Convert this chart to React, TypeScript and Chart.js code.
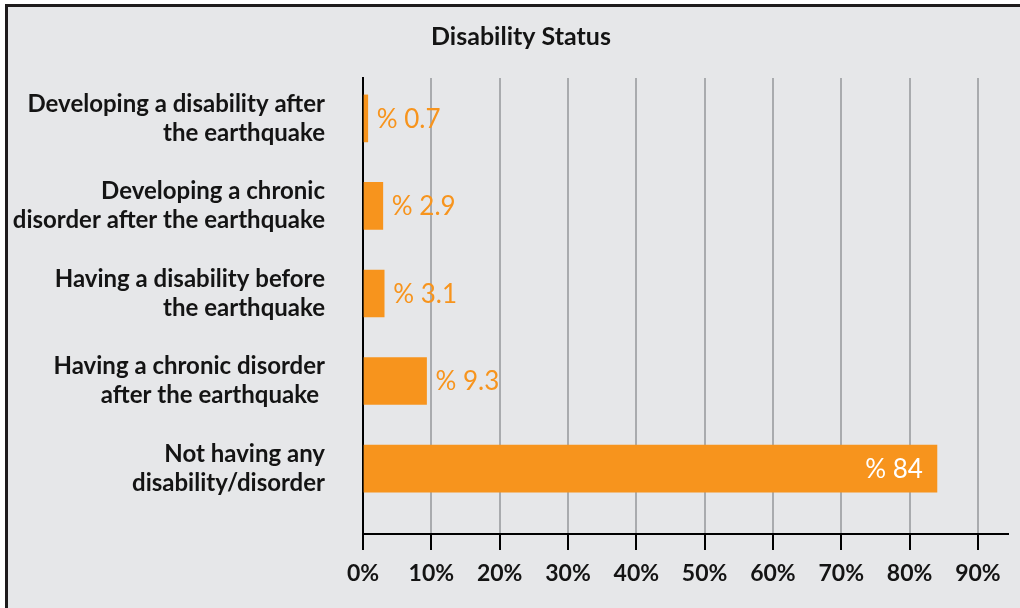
import { useEffect, useRef } from "react";
import { Chart, registerables } from "chart.js";

Chart.register(...registerables);

// Category labels (one array per category, one entry per line)
const CATEGORIES: string[][] = [
  ["Developing a disability after", "the earthquake"],
  ["Developing a chronic", "disorder after the earthquake"],
  ["Having a disability before", "the earthquake"],
  ["Having a chronic disorder", "after the earthquake "],
  ["Not having any", "disability/disorder"],
];

// Share of respondents, in percent
const VALUES: number[] = [0.7, 2.9, 3.1, 9.3, 84];

// Percent ticks along the value axis
const X_TICKS: number[] = [0, 10, 20, 30, 40, 50, 60, 70, 80, 90];

const TITLE = "Disability Status";

const FONT = "Lato";
const ORANGE = "#f7941d";
const INK = "#141414";
const GRID = "#a9abae";

// Left edge of the panel that the title is centred in
const PANEL_LEFT = 34;

const valueLabels = {
  id: "valueLabels",
  afterDatasetsDraw(chart: Chart) {
    const { ctx } = chart;
    const meta = chart.getDatasetMeta(0);
    ctx.save();
    ctx.font = `normal 26px ${FONT}`;
    ctx.textBaseline = "middle";
    meta.data.forEach((bar: any, i: number) => {
      const v = VALUES[i];
      const text = `% ${v}`;
      if (v > 50) {
        ctx.fillStyle = "#ffffff";
        ctx.textAlign = "right";
        ctx.fillText(text, bar.x - 14, bar.y + 1);
      } else {
        ctx.fillStyle = ORANGE;
        ctx.textAlign = "left";
        ctx.fillText(text, bar.x + 9, bar.y + 1);
      }
    });
    ctx.restore();
  },
};

const centredTitle = {
  id: "centredTitle",
  afterDraw(chart: Chart) {
    const { ctx, chartArea } = chart;
    ctx.save();
    ctx.font = `bold 25px ${FONT}`;
    ctx.fillStyle = INK;
    ctx.textAlign = "center";
    ctx.textBaseline = "middle";
    ctx.fillText(TITLE, (PANEL_LEFT + chartArea.right) / 2, 37);
    ctx.restore();
  },
};

export default function App() {
  const canvasRef = useRef<HTMLCanvasElement | null>(null);

  useEffect(() => {
    const canvas = canvasRef.current;
    if (!canvas) return;
    const chart = new Chart(canvas, {
      type: "bar",
      data: {
        datasets: [
          {
            data: VALUES.map((v, i) => ({ x: v, y: i })),
            backgroundColor: ORANGE,
            borderWidth: 0,
            barThickness: 47,
          },
        ],
      },
      options: {
        indexAxis: "y",
        responsive: false,
        animation: false,
        layout: { padding: { left: 0, right: 12, top: 78, bottom: 11.5 } },
        plugins: {
          legend: { display: false },
          tooltip: { enabled: false },
          title: { display: false },
        },
        scales: {
          x: {
            type: "linear",
            min: 0,
            max: 94.4,
            afterBuildTicks: (axis: any) => {
              axis.ticks = X_TICKS.map((value) => ({ value }));
            },
            grid: {
              color: (c: any) => (c.tick && c.tick.value === 0 ? "#000" : GRID),
              lineWidth: 2,
              tickColor: "#000",
              tickLength: 16,
            },
            border: { display: true, color: "#000", width: 2 },
            ticks: {
              color: INK,
              font: { family: FONT, size: 23, weight: "bold" },
              padding: 9.5,
              maxRotation: 0,
              callback: (v: any) => `${v}%`,
            },
          },
          y: {
            type: "linear",
            reverse: true,
            offset: false,
            min: -0.4615,
            max: 4.746,
            afterBuildTicks: (axis: any) => {
              axis.ticks = CATEGORIES.map((_, i) => ({ value: i }));
            },
            afterFit: (scale: any) => {
              scale.width = 363;
            },
            grid: { display: false, drawTicks: false },
            border: { display: true, color: "#000", width: 2 },
            ticks: {
              color: INK,
              font: { family: FONT, size: 24, weight: "bold", lineHeight: 1.2 },
              padding: 38,
              callback: (v: any) => CATEGORIES[v] ?? "",
            },
          },
        },
      },
      plugins: [valueLabels, centredTitle],
    });
    return () => chart.destroy();
  }, []);

  return (
    <div style={{ position: "fixed", left: 0, top: 0, width: 1020, height: 608, background: "#ffffff", overflow: "hidden" }}>
      <div
        style={{
          position: "absolute",
          left: 5,
          top: 4,
          width: 1040,
          height: 640,
          background: "#e6e7e9",
          borderTop: "3px solid #1e1b1c",
          borderLeft: "3px solid #1e1b1c",
        }}
      />
      <canvas ref={canvasRef} width={1020} height={608} style={{ position: "absolute", left: 0, top: 0 }} />
    </div>
  );
}
